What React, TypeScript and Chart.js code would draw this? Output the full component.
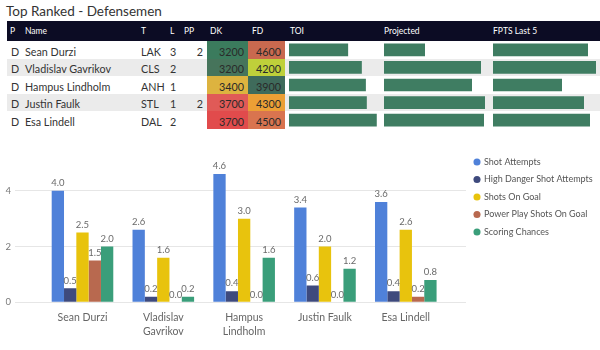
import React, { useEffect, useRef } from "react";
import { Chart, registerables } from "chart.js";

Chart.register(...registerables);

// ---------- Table data ----------
const players = ["Sean Durzi", "Vladislav Gavrikov", "Hampus Lindholm", "Justin Faulk", "Esa Lindell"];
const positions = ["D", "D", "D", "D", "D"];
const teams = ["LAK", "CLS", "ANH", "STL", "DAL"];
const lineNums = [3, 2, 1, 1, 2];
const ppUnits: (number | null)[] = [2, null, null, 2, null];
const dkSalary = [3200, 3200, 3400, 3700, 3700];
const fdSalary = [4600, 4200, 3900, 4300, 4500];
const toi = [19.0, 23.4, 24.7, 25.0, 28.2];
const projected = [4.1, 9.7, 8.8, 10.1, 10.0];
const fptsLast5 = [9.5, 10.3, 6.9, 9.1, 9.7];

// ---------- Chart data ----------
const seriesNames = [
  "Shot Attempts",
  "High Danger Shot Attempts",
  "Shots On Goal",
  "Power Play Shots On Goal",
  "Scoring Chances",
];
const shotAttempts = [4.0, 2.6, 4.6, 3.4, 3.6];
const highDanger = [0.5, 0.2, 0.4, 0.6, 0.4];
const shotsOnGoal = [2.5, 1.6, 3.0, 2.0, 2.6];
const ppShotsOnGoal = [1.5, 0.0, 0.0, 0.0, 0.2];
const scoringChances = [2.0, 0.2, 1.6, 1.2, 0.8];

// ---------- Styles ----------
const FONT = "Lato, 'Open Sans', sans-serif";
const seriesColors = ["#4F81D9", "#3E4A7D", "#E8C30D", "#B8694F", "#3A9E7A"];
const dkColors = ["#3B7B5D", "#46745B", "#DDB33F", "#E05A57", "#E14B4C"];
const fdColors = ["#C9694F", "#BFD03A", "#3F6B5B", "#EC9F35", "#D9744F"];
const barGreen = "#3F7D62";
const ROW_TOP = 41;
const ROW_H = 17.6;

const valueLabelPlugin = {
  id: "valueLabels",
  afterDatasetsDraw(chart: any) {
    const ctx = chart.ctx;
    ctx.save();
    ctx.font = `9.5px ${FONT}`;
    ctx.fillStyle = "#6a6a6a";
    ctx.textAlign = "center";
    ctx.textBaseline = "bottom";
    chart.data.datasets.forEach((ds: any, i: number) => {
      const meta = chart.getDatasetMeta(i);
      meta.data.forEach((el: any, j: number) => {
        const v = ds.data[j].y as number;
        ctx.fillText(v.toFixed(1), el.x, el.y - 3);
      });
    });
    ctx.restore();
  },
};

function DataBarColumn({ values, max, left, width }: { values: number[]; max: number; left: number; width: number }) {
  const ref = useRef<HTMLCanvasElement>(null);
  const height = ROW_H * players.length;
  useEffect(() => {
    const chart = new Chart(ref.current!, {
      type: "bar",
      data: {
        labels: players,
        datasets: [
          {
            data: values,
            backgroundColor: barGreen,
            barPercentage: 0.72,
            categoryPercentage: 1,
          },
        ],
      },
      options: {
        indexAxis: "y",
        responsive: false,
        maintainAspectRatio: false,
        animation: false,
        layout: { padding: 0 },
        plugins: { legend: { display: false }, tooltip: { enabled: false } },
        scales: {
          x: { display: false, min: 0, max },
          y: { display: false },
        },
      },
    });
    return () => chart.destroy();
  }, []);
  return (
    <canvas
      ref={ref}
      width={width}
      height={Math.round(height)}
      style={{ position: "absolute", left, top: ROW_TOP, width, height: Math.round(height) }}
    />
  );
}

function MainChart() {
  const ref = useRef<HTMLCanvasElement>(null);
  useEffect(() => {
    const data = [shotAttempts, highDanger, shotsOnGoal, ppShotsOnGoal, scoringChances];
    const chart = new Chart(ref.current!, {
      type: "bar",
      data: {
        datasets: seriesNames.map((name, i) => ({
          label: name,
          data: data[i].map((v, idx) => ({ x: idx, y: v })),
          backgroundColor: seriesColors[i],
          borderWidth: 0,
          barPercentage: 1,
          categoryPercentage: 0.762,
        })),
      },
      options: {
        responsive: false,
        maintainAspectRatio: false,
        animation: false,
        layout: { padding: { left: 5.5, right: 4, top: 9, bottom: 0 } },
        plugins: {
          tooltip: { enabled: false },
          legend: {
            position: "right",
            align: "start",
            maxWidth: 130,
            labels: {
              usePointStyle: true,
              pointStyle: "circle",
              boxWidth: 5,
              boxHeight: 5,
              padding: 8.5,
              color: "#555",
              font: { family: FONT, size: 9 },
            },
          },
        },
        scales: {
          x: {
            type: "linear",
            offset: false,
            min: -0.835,
            max: 4.745,
            grid: { display: false, drawTicks: false, offset: false },
            border: { display: false },
            ticks: {
              stepSize: 1,
              includeBounds: false,
              color: "#666",
              padding: 9,
              maxRotation: 0,
              autoSkip: false,
              font: { family: FONT, size: 10.5, lineHeight: 1.27 },
              callback: (v: any) => {
                const name = players[Number(v)];
                if (!name) return "";
                return name.length > 12 ? name.split(" ") : name;
              },
            },
            afterFit: (s: any) => {
              s.height = 47.7;
            },
          },
          y: {
            min: 0,
            max: 5.5,
            grid: { color: "#e6e6e6", drawTicks: false },
            border: { display: false },
            ticks: {
              stepSize: 2,
              includeBounds: false,
              padding: 0,
              crossAlign: "far",
              color: "#777",
              font: { family: FONT, size: 9.5 },
            },
            afterFit: (s: any) => {
              s.width = 9.5;
            },
          },
        },
      },
      plugins: [valueLabelPlugin],
    });
    return () => chart.destroy();
  }, []);
  return <canvas ref={ref} width={600} height={210} style={{ position: "absolute", left: 0, top: 140, width: 600, height: 210 }} />;
}

const headerCols: { text: string; x: number }[] = [
  { text: "P", x: 10 },
  { text: "Name", x: 25 },
  { text: "T", x: 141 },
  { text: "L", x: 170 },
  { text: "PP", x: 184 },
  { text: "DK", x: 210 },
  { text: "FD", x: 252 },
  { text: "TOI", x: 290 },
  { text: "Projected", x: 384 },
  { text: "FPTS Last 5", x: 493 },
];

export default function App() {
  const txt = (extra: React.CSSProperties): React.CSSProperties => ({
    position: "absolute",
    fontFamily: FONT,
    fontSize: 10.75,
    color: "#333",
    whiteSpace: "nowrap",
    lineHeight: `${ROW_H}px`,
    paddingTop: 1.5,
    ...extra,
  });
  return (
    <div style={{ position: "absolute", left: 0, top: 0, width: 600, height: 350, background: "#fff", overflow: "hidden" }}>
      <div style={{ position: "absolute", left: 6, top: 2, fontFamily: FONT, fontSize: 13.5, color: "#333", whiteSpace: "nowrap", lineHeight: "18px" }}>
        Top Ranked - Defensemen
      </div>
      <div style={{ position: "absolute", left: 7, top: 21, width: 593, height: 20, background: "#0c0c24" }} />
      {headerCols.map((h) => (
        <div
          key={h.text}
          style={{ position: "absolute", left: h.x, top: 22, lineHeight: "18px", fontFamily: FONT, fontSize: 8.5, color: "#fff", whiteSpace: "nowrap" }}
        >
          {h.text}
        </div>
      ))}
      {players.map((p, i) => {
        const top = ROW_TOP + i * ROW_H;
        return (
          <React.Fragment key={p}>
            {i % 2 === 1 && (
              <div style={{ position: "absolute", left: 7, top, width: 593, height: ROW_H, background: "#ebebeb" }} />
            )}
            <div style={{ position: "absolute", left: 207, top, width: 41, height: ROW_H, background: dkColors[i] }} />
            <div style={{ position: "absolute", left: 248, top, width: 37, height: ROW_H, background: fdColors[i] }} />
            <div style={txt({ left: 11, top })}>{positions[i]}</div>
            <div style={txt({ left: 25, top })}>{p}</div>
            <div style={txt({ left: 141, top })}>{teams[i]}</div>
            <div style={txt({ left: 170, top })}>{lineNums[i]}</div>
            <div style={txt({ left: 170, width: 33, textAlign: "right", top })}>{ppUnits[i] ?? ""}</div>
            <div style={txt({ left: 207, width: 37, textAlign: "right", top, color: "#2a2a2a" })}>{dkSalary[i]}</div>
            <div style={txt({ left: 248, width: 33, textAlign: "right", top, color: "#2a2a2a" })}>{fdSalary[i]}</div>
          </React.Fragment>
        );
      })}
      <DataBarColumn values={toi} max={30.2} left={289} width={94} />
      <DataBarColumn values={projected} max={10.8} left={384} width={108} />
      <DataBarColumn values={fptsLast5} max={10.7} left={493} width={107} />
      <MainChart />
    </div>
  );
}
